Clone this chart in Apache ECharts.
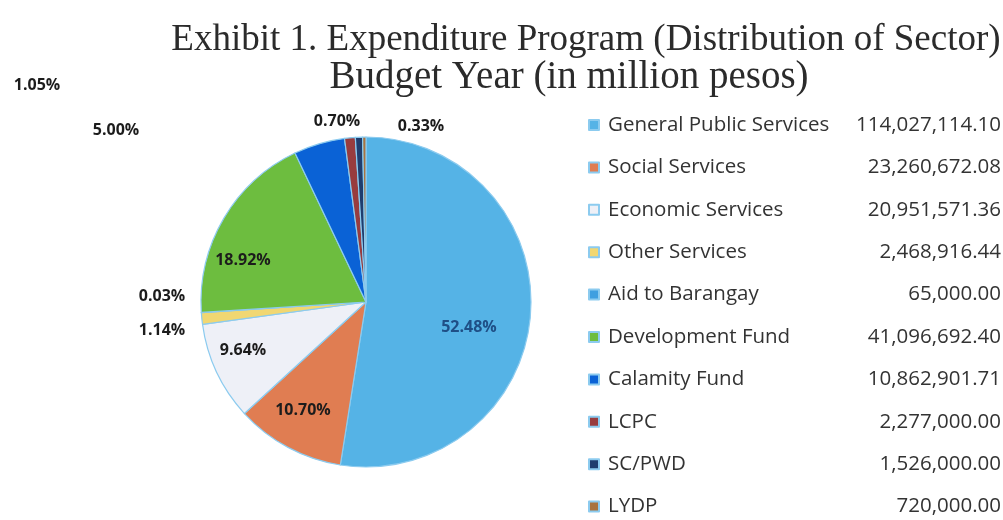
<!DOCTYPE html>
<html>
<head>
<meta charset="utf-8">
<script src="https://cdn.jsdelivr.net/npm/echarts@6/dist/echarts.min.js"></script>
<style>
  html, body { margin: 0; padding: 0; background: #ffffff; }
  #chart { width: 1003px; height: 520px; }
</style>
</head>
<body>
<div id="chart"></div>
<script>
// Expenditure program by sector: share of total (%) and amount in the legend
const sectors = [
  'General Public Services', 'Social Services', 'Economic Services', 'Other Services',
  'Aid to Barangay', 'Development Fund', 'Calamity Fund', 'LCPC', 'SC/PWD', 'LYDP'
];
const shares = [52.48, 10.70, 9.64, 1.14, 0.03, 18.92, 5.00, 1.05, 0.70, 0.33];
const amounts = [
  '114,027,114.10', '23,260,672.08', '20,951,571.36', '2,468,916.44', '65,000.00',
  '41,096,692.40', '10,862,901.71', '2,277,000.00', '1,526,000.00', '720,000.00'
];

// Slice colours
const colors = [
  '#55b3e6', '#e07d52', '#eef0f7', '#f1d772', '#3f9fe0',
  '#6dbd3f', '#0a62d6', '#983c3e', '#1f3d6e', '#a9733f'
];
// Percentage label placement, offset from the pie centre
const labelOffsets = [
  [103, 25], [-63, 108], [-123, 48], [-204, 28], [-204, -6],
  [-123, -42], [-250, -172], [-329, -217], [-29, -181], [55, -176]
];

const pieCenter = [366, 302];
const amountOf = {};
sectors.forEach((s, i) => { amountOf[s] = amounts[i]; });

const legendFont = { fontFamily: 'Open Sans', fontSize: 20.5, color: '#333333', lineHeight: 22 };

const chart = echarts.init(document.getElementById('chart'), null, { renderer: 'canvas' });

chart.setOption({
  backgroundColor: '#ffffff',
  animation: false,
  title: [
    {
      text: 'Exhibit 1. Expenditure Program (Distribution of Sector)',
      left: 581, top: 17, textAlign: 'center',
      textStyle: { fontFamily: 'Liberation Serif', fontWeight: 'normal', fontSize: 37, color: '#2b2b2b' }
    },
    {
      text: 'Budget Year (in million pesos)',
      left: 564, top: 53, textAlign: 'center',
      textStyle: { fontFamily: 'Liberation Serif', fontWeight: 'normal', fontSize: 39, color: '#2b2b2b' }
    }
  ],
  legend: {
    orient: 'vertical',
    left: 588,
    top: 114,
    padding: 0,
    itemWidth: 10,
    itemHeight: 10,
    itemGap: 20.4,
    icon: 'rect',
    selectedMode: false,
    data: sectors,
    formatter: name => '{n|' + name + '}{v|' + amountOf[name] + '}',
    textStyle: Object.assign({}, legendFont, {
      rich: {
        n: Object.assign({ width: 238, padding: [0, 0, 0, 4] }, legendFont),
        v: Object.assign({ width: 155, align: 'right' }, legendFont)
      }
    })
  },
  series: [{
    type: 'pie',
    center: pieCenter,
    radius: 165,
    startAngle: 90,
    clockwise: true,
    avoidLabelOverlap: false,
    itemStyle: { borderColor: '#8ccbef', borderWidth: 1.2 },
    label: {
      show: true,
      position: 'inside',
      formatter: p => p.value.toFixed(2) + '%',
      fontFamily: 'Open Sans',
      fontWeight: 'bold',
      fontSize: 16,
      color: '#1c1c1c'
    },
    labelLine: { show: false },
    labelLayout: params => {
      const o = labelOffsets[params.dataIndex];
      return { x: pieCenter[0] + o[0], y: pieCenter[1] + o[1], align: 'center', verticalAlign: 'middle' };
    },
    emphasis: { disabled: true },
    data: sectors.map((name, i) => ({
      name: name,
      value: shares[i],
      itemStyle: { color: colors[i] },
      label: i === 0 ? { color: '#1f4f86' } : {}
    }))
  }]
});
</script>
</body>
</html>
